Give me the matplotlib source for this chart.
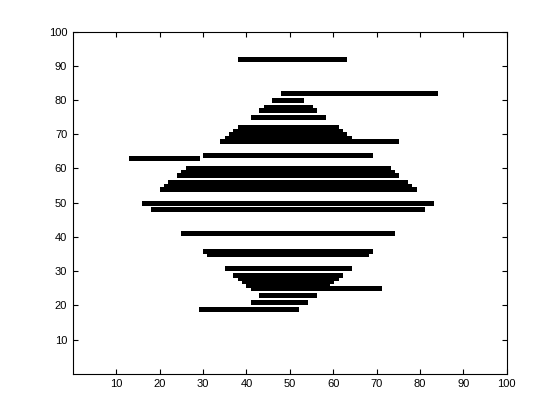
import matplotlib
matplotlib.use("Agg")
import matplotlib.pyplot as plt

# horizontal segments: y level, start x, end x
seg_y = [92, 82, 80, 78, 77, 75, 72, 71, 70, 69, 68, 64, 63, 60, 59, 58,
         56, 55, 54, 50, 48, 41, 36, 35, 31, 29, 28, 27, 26, 25, 23, 21, 19]
seg_x0 = [38, 48, 46, 44, 43, 41, 38, 37, 36, 35, 34, 30, 13, 26, 25, 24,
          22, 21, 20, 16, 18, 25, 30, 31, 35, 37, 38, 39, 40, 41, 43, 41, 29]
seg_x1 = [63, 84, 53, 55, 56, 58, 61, 62, 63, 64, 75, 69, 29, 73, 74, 75,
          77, 78, 79, 83, 81, 74, 69, 68, 64, 62, 61, 60, 59, 71, 56, 54, 52]

ticks = list(range(10, 101, 10))

plt.rcParams["font.family"] = ["Liberation Sans", "DejaVu Sans"]

fig = plt.figure(figsize=(5.6, 4.2), dpi=100)
ax = fig.add_axes([0.13, 0.11, 0.775, 0.815])

ax.hlines(seg_y, seg_x0, seg_x1, colors="black", linewidth=2.3,
          capstyle="butt", antialiased=False)

ax.set_xlim(0, 100)
ax.set_ylim(0, 100)
ax.set_xticks(ticks)
ax.set_yticks(ticks)
ax.tick_params(direction="in", length=3.5, width=0.8, top=True, right=True,
               labelsize=8, pad=4)
for sp in ax.spines.values():
    sp.set_linewidth(0.8)

fig.savefig("out.png", dpi=100, facecolor="white")
